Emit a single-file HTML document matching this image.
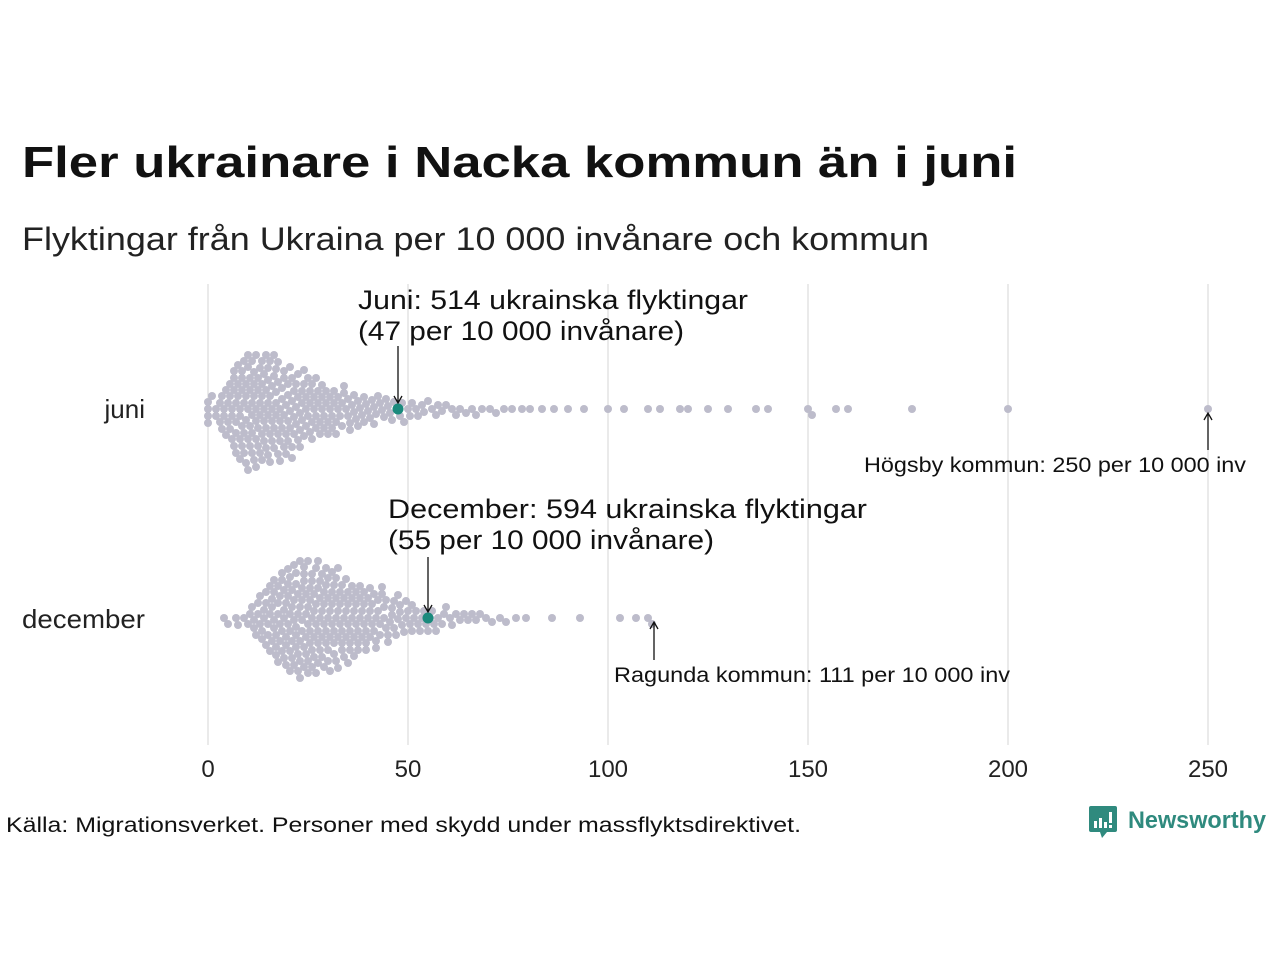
<!DOCTYPE html>
<html><head><meta charset="utf-8"><style>
html,body{margin:0;padding:0;background:#fff;}
svg{display:block;font-family:"Liberation Sans","DejaVu Sans",sans-serif;}
</style></head><body>
<svg id="s" width="1280" height="960" viewBox="0 0 1280 960" xmlns="http://www.w3.org/2000/svg">
<rect width="1280" height="960" fill="#fff"/>
<text x="22" y="177" font-size="44" font-weight="bold" fill="#111" textLength="995" lengthAdjust="spacingAndGlyphs">Fler ukrainare i Nacka kommun än i juni</text>
<text x="22" y="250" font-size="32" fill="#222" textLength="907" lengthAdjust="spacingAndGlyphs">Flyktingar från Ukraina per 10 000 invånare och kommun</text>
<g stroke="#d6d6d6" stroke-width="1">
<line x1="208" y1="284" x2="208" y2="745"/><line x1="408" y1="284" x2="408" y2="745"/>
<line x1="608" y1="284" x2="608" y2="745"/><line x1="808" y1="284" x2="808" y2="745"/>
<line x1="1008" y1="284" x2="1008" y2="745"/><line x1="1208" y1="284" x2="1208" y2="745"/>
</g>
<g id="dots"></g>
<g font-size="24" fill="#222" text-anchor="middle">
<text x="208" y="777">0</text><text x="408" y="777">50</text><text x="608" y="777">100</text>
<text x="808" y="777">150</text><text x="1008" y="777">200</text><text x="1208" y="777">250</text>
</g>
<g font-size="26" fill="#222" text-anchor="end">
<text x="145" y="418">juni</text><text x="145" y="628" textLength="123" lengthAdjust="spacingAndGlyphs">december</text>
</g>
<g font-size="27" fill="#111">
<text x="358" y="309" textLength="390" lengthAdjust="spacingAndGlyphs">Juni: 514 ukrainska flyktingar</text>
<text x="358" y="340" textLength="326" lengthAdjust="spacingAndGlyphs">(47 per 10 000 invånare)</text>
<text x="388" y="518" textLength="479" lengthAdjust="spacingAndGlyphs">December: 594 ukrainska flyktingar</text>
<text x="388" y="549" textLength="326" lengthAdjust="spacingAndGlyphs">(55 per 10 000 invånare)</text>
</g>
<g font-size="21" fill="#111">
<text x="864" y="472" textLength="382" lengthAdjust="spacingAndGlyphs">Högsby kommun: 250 per 10 000 inv</text>
<text x="614" y="682" textLength="396" lengthAdjust="spacingAndGlyphs">Ragunda kommun: 111 per 10 000 inv</text>
<text x="6" y="832" textLength="795" lengthAdjust="spacingAndGlyphs">Källa: Migrationsverket. Personer med skydd under massflyktsdirektivet.</text>
</g>
<g stroke="#111" stroke-width="1.3" fill="none">
<line x1="398" y1="346" x2="398" y2="402"/><path d="M394,396 L398,403 L402,396"/>
<line x1="1208" y1="450" x2="1208" y2="414"/><path d="M1204,420 L1208,413 L1212,420"/>
<line x1="428" y1="557" x2="428" y2="611"/><path d="M424,605 L428,612 L432,605"/>
<line x1="654" y1="660" x2="654" y2="623"/><path d="M650,629 L654,622 L658,629"/>
</g>
<g transform="translate(1089,806)">
<path d="M0,2 Q0,0 2,0 H26 Q28,0 28,2 V24 Q28,26 26,26 H18 L13,32 L11,26 H2 Q0,26 0,24 Z" fill="#2f8a7e"/>
<rect x="5" y="15" width="3" height="7" fill="#fff"/><rect x="10" y="12" width="3" height="10" fill="#fff"/><rect x="15" y="16" width="3" height="6" fill="#fff"/><rect x="20" y="6" width="3" height="11" fill="#fff"/><rect x="20" y="19" width="3" height="3" fill="#fff"/>
</g>
<text x="1128" y="828" font-size="24" font-weight="bold" fill="#2f8a7e" textLength="138" lengthAdjust="spacingAndGlyphs">Newsworthy</text>
</svg>
<script>
(function(){
function probit(p){var a=[-39.6968,220.946,-275.929,138.358,-30.6648,2.50663],b=[-54.4761,161.586,-155.699,66.8013,-13.2807],c=[-0.00778489,-0.322396,-2.40076,-2.54973,4.37466,2.93816],d=[0.00778470,0.322467,2.44513,3.75441];var q,r;
if(p<0.02425){q=Math.sqrt(-2*Math.log(p));return(((((c[0]*q+c[1])*q+c[2])*q+c[3])*q+c[4])*q+c[5])/((((d[0]*q+d[1])*q+d[2])*q+d[3])*q+1);}
if(p>1-0.02425){q=Math.sqrt(-2*Math.log(1-p));return-(((((c[0]*q+c[1])*q+c[2])*q+c[3])*q+c[4])*q+c[5])/((((d[0]*q+d[1])*q+d[2])*q+d[3])*q+1);}
q=p-0.5;r=q*q;return(((((a[0]*r+a[1])*r+a[2])*r+a[3])*r+a[4])*r+a[5])*q/(((((b[0]*r+b[1])*r+b[2])*r+b[3])*r+b[4])*r+1);}
function gen(n,med,sig,max,extra,low){var v=[];for(var i=0;i<n;i++){var p=(i+0.5)/n;var x=med*Math.exp(sig*probit(p));if(x<=max)v.push(Math.round(x*2)/2);}return v.concat(extra,low);}
var juni=gen(272,21,0.78,98,[100,104,110,113,118,120,125,130,137,140,150,151,157,160,176,200,250],[0,0,0,0,1,2,3]);
var dec=gen(285,30,0.47,81,[86,93,103,107,110,111],[4,5,7]);
var g=document.getElementById('dots'),NS='http://www.w3.org/2000/svg';
function swarm(vals,cy,hi){vals.sort(function(a,b){return a-b;});var placed=[];var D=7;
vals.forEach(function(v){var x=208+v*4,best=0;
for(var k=0;k<200;k++){var off=(k%2?1:-1)*Math.ceil(k/2)*1.0;var ok=true;
for(var j=placed.length-1;j>=0;j--){var p=placed[j];if(x-p[0]>D)break;var dx=x-p[0],dy=off-p[1];if(dx*dx+dy*dy<D*D){ok=false;break;}}
if(ok){best=off;break;}}
placed.push([x,best]);
var c=document.createElementNS(NS,'circle');c.setAttribute('cx',x);c.setAttribute('cy',cy+best);c.setAttribute('r',4);c.setAttribute('fill','#bdbccb');g.appendChild(c);});
var h=document.createElementNS(NS,'circle');h.setAttribute('cx',208+hi*4);h.setAttribute('cy',cy);h.setAttribute('r',5.5);h.setAttribute('fill','#1b8a7d');g.appendChild(h);}
swarm(juni,409,47.5);swarm(dec,618,55);
})();
</script>
</body></html>
